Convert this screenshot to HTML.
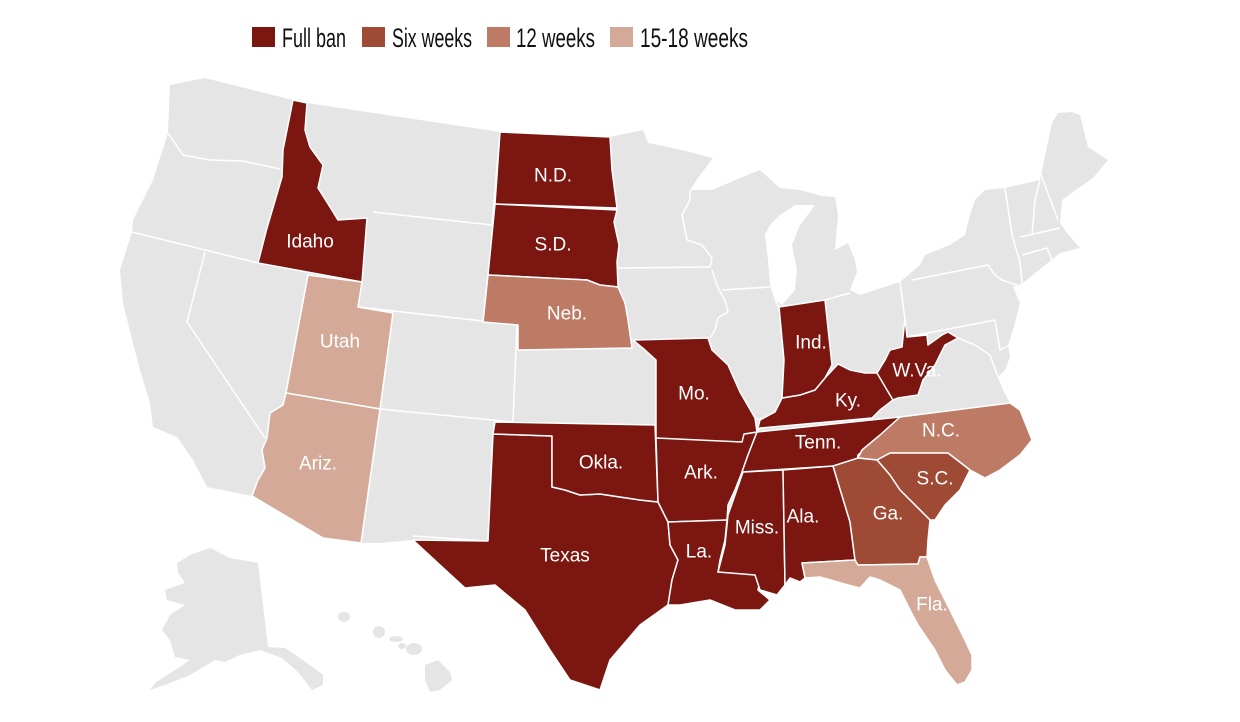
<!DOCTYPE html>
<html><head><meta charset="utf-8"><style>
html,body{margin:0;padding:0;background:#fff;}
svg{display:block;}
.st{stroke:#fff;stroke-width:1.5;stroke-linejoin:round;}
.fb{fill:#7c1610}.sw{fill:#9e4a35}.tw{fill:#bd7a65}.ff{fill:#d4a997}
.ln{fill:none;stroke:#fff;stroke-width:1.5;stroke-linejoin:round;}
.lb{font-family:"Liberation Sans",sans-serif;font-size:19px;fill:#fff;text-anchor:middle;dominant-baseline:central;}
.lg{font-family:"Liberation Sans Narrow","Liberation Sans",sans-serif;font-size:27px;fill:#111;}
</style></head><body>
<svg width="1240" height="722" viewBox="0 0 1240 722" xmlns="http://www.w3.org/2000/svg">
<rect x="252" y="27" width="23" height="20" class="fb"/>
<text x="282" y="47" class="lg" textLength="64" lengthAdjust="spacingAndGlyphs">Full ban</text>
<rect x="362" y="27" width="23" height="20" class="sw"/>
<text x="392" y="47" class="lg" textLength="80" lengthAdjust="spacingAndGlyphs">Six weeks</text>
<rect x="487" y="27" width="23" height="20" class="tw"/>
<text x="516" y="47" class="lg" textLength="79" lengthAdjust="spacingAndGlyphs">12 weeks</text>
<rect x="610" y="27" width="23" height="20" class="ff"/>
<text x="640" y="47" class="lg" textLength="108" lengthAdjust="spacingAndGlyphs">15-18 weeks</text>

<polygon fill="#e5e5e5" points="170,85 205,78 293,100 307,103 500,132 610,137 643,130 648,143 668,147 690,152 713,158 700,175 690,190 712,190 740,178 760,170 780,188 800,190 822,196 835,197 838,215 835,250 848,243 855,260 857,272 850,290 860,295 875,290 900,282 920,265 925,255 950,245 965,235 970,215 975,200 985,190 1005,188 1040,180 1052,123 1058,113 1072,112 1080,115 1088,147 1108,160 1093,178 1080,187 1062,200 1060,223 1067,233 1080,248 1060,253 1023,283 1013,287 1020,303 1013,330 1008,345 1010,357 1005,370 998,377 1003,390 1010,403 1020,410 1032,440 1020,455 1000,470 985,478 970,470 960,490 945,505 935,520 930,520 928,540 927,557 935,580 950,610 965,640 972,655 972,670 965,682 957,685 945,670 935,650 918,625 910,610 900,590 880,580 870,577 860,588 848,585 820,577 805,578 800,582 790,578 785,585 777,595 760,590 770,600 760,610 735,610 710,600 680,605 668,605 640,625 610,660 600,690 570,680 550,650 525,610 495,585 465,588 440,565 413,540 380,543 361,543 323,538 252,496 207,487 193,460 177,437 153,427 150,403 140,370 133,343 123,303 120,270 132,232 133,220 153,180 168,133"/>
<polygon fill="#fff" points="765,235 770,225 780,215 795,205 815,205 810,212 800,225 792,245 797,270 795,290 782,305 775,300 770,285 768,260"/>
<polygon fill="#e5e5e5" points="177,563 190,555 210,548 230,558 258,563 268,647 285,648 300,658 323,675 323,685 312,690 298,672 282,658 260,650 240,655 225,662 215,660 190,675 165,685 150,690 155,683 178,668 190,660 175,657 170,640 162,630 170,615 185,605 167,600 165,590 185,583 178,573"/>
<g fill="#e5e5e5">
<ellipse cx="344" cy="617" rx="6" ry="5"/>
<ellipse cx="379" cy="632" rx="6" ry="6"/>
<ellipse cx="396" cy="639" rx="7" ry="3"/>
<ellipse cx="402" cy="646" rx="4" ry="3"/>
<ellipse cx="414" cy="649" rx="8" ry="6"/>
<polygon points="425,665 438,660 450,672 452,680 440,690 430,692 425,680"/>
</g>

<g class="ln">
<polyline points="168,133 183,155 210,160 243,161 280,169"/>
<polyline points="132,232 258,263"/>
<polyline points="205,252 187,322 265,438"/>
<polyline points="308,275 286,393"/>
<polyline points="338,220 367,218"/>
<polyline points="373,212 492,225 500,132"/>
<polyline points="367,218 358,307 483,321 488,275"/>
<polyline points="393,313 380,409 513,422 517,325"/>
<polyline points="518,350 632,348"/>
<polyline points="513,422 495,422 493,434 488,541 413,536"/>
<polyline points="380,409 361,543"/>
<polyline points="618,268 710,267"/>
<polyline points="710,267 712,258 702,245 687,240 682,215 690,200 690,190"/>
<polyline points="712,270 718,288 725,300 728,312 718,318 715,330 710,338"/>
<polyline points="722,290 770,287"/>
<polyline points="708,338 712,350 728,365 740,392 755,418 760,420 762,418"/>
<polyline points="775,300 779,307"/>
<polyline points="825,300 850,293"/>
<polyline points="900,282 905,320"/>
<polyline points="912,280 988,265 995,275 1002,280 1017,285"/>
<polyline points="907,337 995,320 1000,350 1010,345"/>
<polyline points="1005,188 1012,235 1020,262 1022,283"/>
<polyline points="1020,237 1060,228"/>
<polyline points="1022,255 1047,248 1053,263"/>
<polyline points="1040,180 1035,200 1032,235"/>
<polyline points="1040,172 1058,220"/>
<polyline points="958,338 975,345 990,355 998,377"/>
</g>

<g class="st">
<polygon class="fb" points="293,100 307,103 305,130 310,147 323,165 318,188 330,207 338,220 367,218 362,282 258,263 267,228 282,177 283,150"/>
<polygon class="ff" points="308,275 362,282 358,307 393,313 380,409 286,393"/>
<polygon class="ff" points="286,393 380,409 361,543 323,538 252,496 258,480 265,468 262,450 267,438 270,413 283,405"/>
<polygon class="fb" points="500,132 610,137 612,170 617,208 495,204"/>
<polygon class="fb" points="495,204 617,210 614,222 619,245 617,262 618,287 600,285 587,280 488,275"/>
<polygon class="tw" points="488,275 587,280 600,285 618,287 625,303 628,320 632,348 518,350 518,325 483,322"/>
<polygon class="fb" points="493,434 552,436 552,487 565,490 580,495 600,494 620,497 640,500 658,502 668,522 670,545 678,560 672,580 668,605 640,625 610,660 600,690 570,680 550,650 525,610 495,585 465,588 440,565 413,540 488,541"/>
<polygon class="fb" points="495,422 655,425 658,502 640,500 620,497 600,494 580,495 565,490 552,487 552,436 493,434"/>
<polygon class="fb" points="656,438 744,434 757,432 748,455 742,472 735,490 728,505 727,520 668,522 658,502"/>
<polygon class="fb" points="633,340 708,338 712,350 728,365 740,392 755,418 757,432 744,434 742,442 656,438 656,360 645,350"/>
<polygon class="fb" points="668,522 727,520 725,540 720,560 718,572 755,572 760,580 758,590 770,600 760,610 735,610 710,600 680,605 668,605 672,580 678,560 670,545"/>
<polygon class="fb" points="743,472 783,470 785,585 777,595 760,590 755,575 718,572 725,545 728,515 735,495"/>
<polygon class="fb" points="783,470 833,466 850,522 855,560 802,563 805,578 800,582 790,578 785,585"/>
<polygon class="fb" points="757,432 900,417 885,432 870,445 858,455 857,462 833,466 742,472 748,455"/>
<polygon class="fb" points="757,432 760,420 775,412 782,398 800,395 815,390 825,378 838,364 850,370 865,373 877,373 885,385 893,400 880,410 872,418 760,428"/>
<polygon class="fb" points="779,307 825,300 832,365 825,378 815,390 800,395 782,398 784,360"/>
<polygon class="fb" points="905,318 907,337 927,335 928,345 942,335 948,332 958,338 945,345 940,355 935,365 923,380 918,395 898,398 893,400 887,390 877,373 885,360 890,350 902,347"/>
<polygon class="tw" points="900,417 1010,403 1020,410 1032,440 1020,455 1000,470 985,478 970,470 948,453 890,453 877,460 858,458 862,450 880,435"/>
<polygon class="sw" points="877,460 890,453 948,453 970,470 960,490 945,505 935,520 930,520 900,490 890,475"/>
<polygon class="sw" points="833,466 858,458 877,460 890,475 900,490 930,520 928,540 927,557 920,557 918,564 858,565 855,560 850,522"/>
<polygon class="ff" points="802,563 855,560 858,565 918,564 920,557 927,557 935,580 950,610 965,640 972,655 972,670 965,682 957,685 945,670 935,650 918,625 910,610 900,590 880,580 870,577 860,588 848,585 820,577 805,578"/>
</g>

<g class="lb">
<text x="553" y="176">N.D.</text>
<text x="553" y="245">S.D.</text>
<text x="310" y="242">Idaho</text>
<text x="567" y="314">Neb.</text>
<text x="340" y="342">Utah</text>
<text x="318" y="464">Ariz.</text>
<text x="601" y="463">Okla.</text>
<text x="565" y="556">Texas</text>
<text x="694" y="394">Mo.</text>
<text x="701" y="473">Ark.</text>
<text x="699" y="552">La.</text>
<text x="757" y="528">Miss.</text>
<text x="803" y="517">Ala.</text>
<text x="811" y="343">Ind.</text>
<text x="848" y="401">Ky.</text>
<text x="917" y="371">W.Va.</text>
<text x="818" y="443">Tenn.</text>
<text x="941" y="431">N.C.</text>
<text x="935" y="479">S.C.</text>
<text x="888" y="514">Ga.</text>
<text x="932" y="605">Fla.</text>
</g>
</svg>
</body></html>
